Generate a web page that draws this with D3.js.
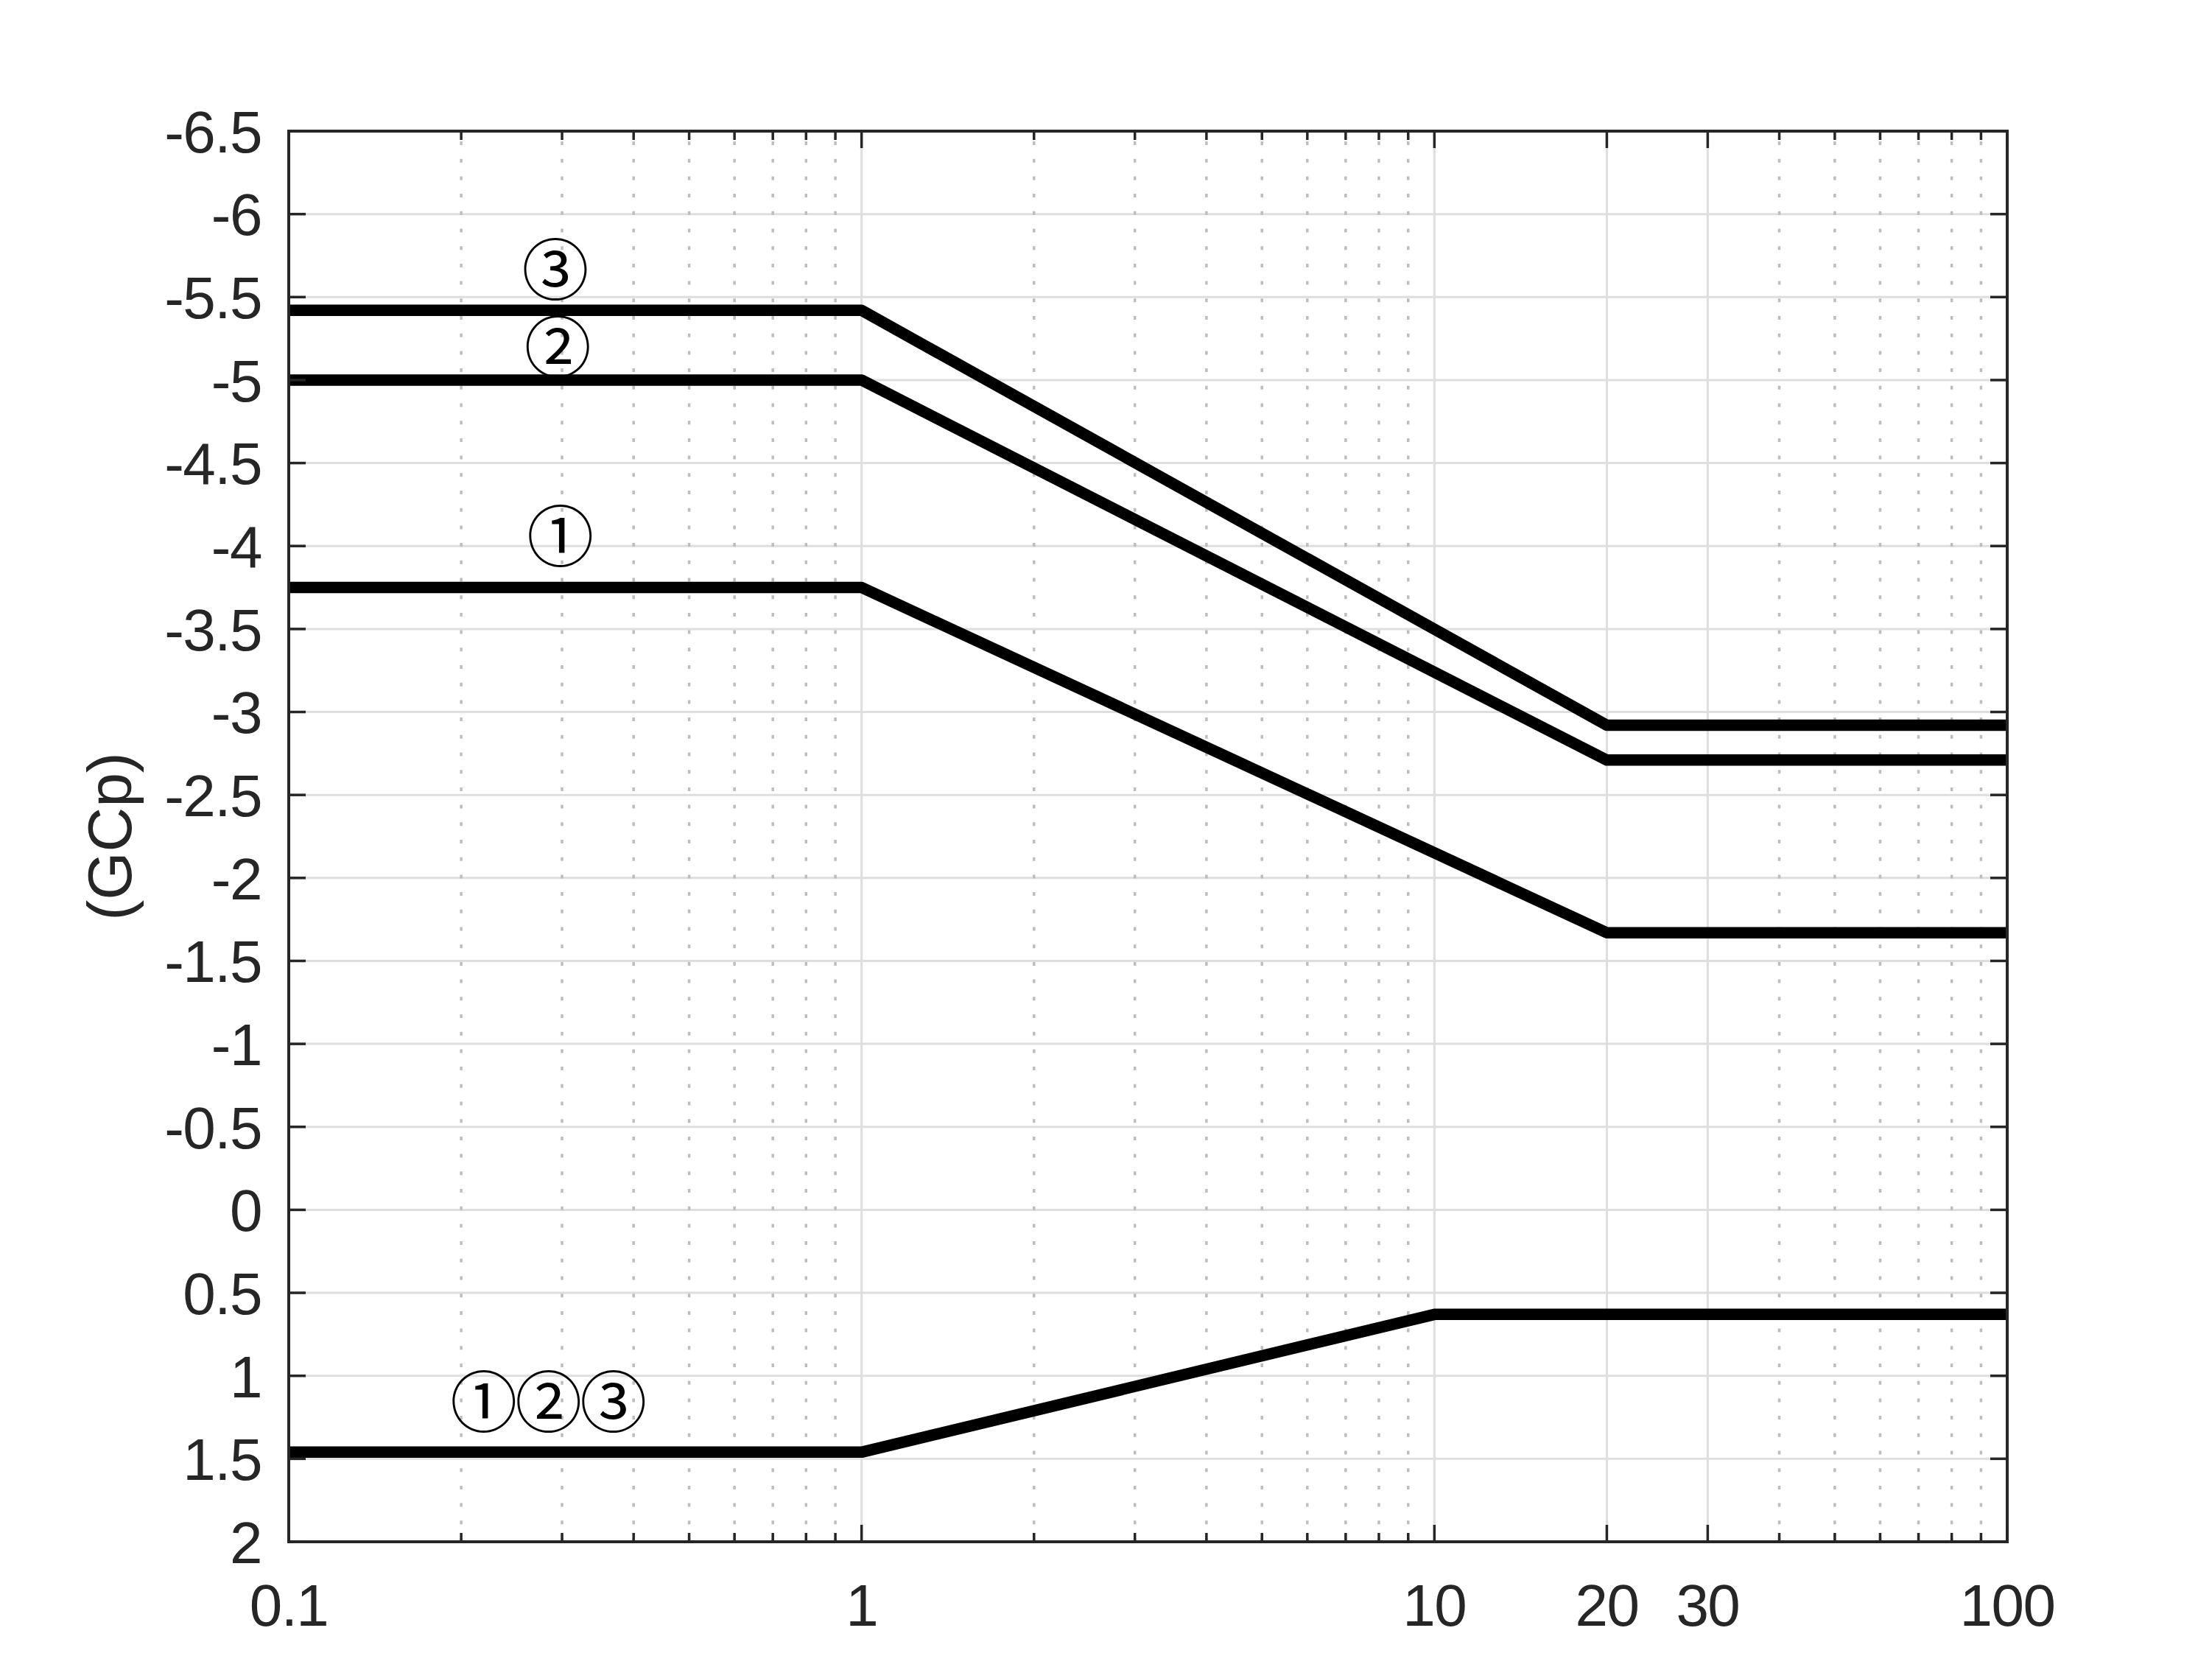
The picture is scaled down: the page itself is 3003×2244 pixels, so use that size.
<!DOCTYPE html>
<html>
<head>
<meta charset="utf-8">
<script src="https://cdn.jsdelivr.net/npm/d3@7"></script>
<style>
  html, body { margin: 0; padding: 0; background: #fff; }
  svg { display: block; }
</style>
</head>
<body>
<svg id="chart" width="3003" height="2244"></svg>
<script>
// ---- data ----
const negX = [0.1, 1, 20, 100];
const zone1Neg = [-3.75, -3.75, -1.67, -1.67];
const zone2Neg = [-5.0, -5.0, -2.71, -2.71];
const zone3Neg = [-5.42, -5.42, -2.92, -2.92];
const posX = [0.1, 1, 10, 100];
const zoneAllPos = [1.46, 1.46, 0.63, 0.63];

const xTickValues = [0.1, 1, 10, 20, 30, 100];
const xTickLabels = ["0.1", "1", "10", "20", "30", "100"];
const xMinorValues = [0.2, 0.3, 0.4, 0.5, 0.6, 0.7, 0.8, 0.9,
                      2, 3, 4, 5, 6, 7, 8, 9,
                      40, 50, 60, 70, 80, 90];
const yTickValues = [-6.5, -6, -5.5, -5, -4.5, -4, -3.5, -3, -2.5, -2, -1.5, -1, -0.5, 0, 0.5, 1, 1.5, 2];
const yTickLabels = ["-6.5", "-6", "-5.5", "-5", "-4.5", "-4", "-3.5", "-3", "-2.5", "-2", "-1.5", "-1", "-0.5", "0", "0.5", "1", "1.5", "2"];
const yAxisTitle = "(GCp)";

const labelTexts = ["③", "②", "①", "①②③"];
const labelX = [0.292, 0.295, 0.298, 0.283];
const labelY = [-5.655, -5.19, -4.05, 1.165];

// ---- layout ----
const L = 392, R = 2725, T = 178, B = 2093;
const ink = "#262626";
const svg = d3.select("#chart");

const x = d3.scaleLog().domain([0.1, 100]).range([L, R]);
const y = d3.scaleLinear().domain([-6.5, 2]).range([T, B]);

// grid
const grid = svg.append("g");
grid.selectAll("line.ymaj").data(yTickValues).join("line")
  .attr("x1", L).attr("x2", R)
  .attr("y1", d => y(d)).attr("y2", d => y(d))
  .attr("stroke", "#dedede").attr("stroke-width", 3);
grid.selectAll("line.xmaj").data(xTickValues).join("line")
  .attr("x1", d => x(d)).attr("x2", d => x(d))
  .attr("y1", T).attr("y2", B)
  .attr("stroke", "#dedede").attr("stroke-width", 3);
grid.selectAll("line.xmin").data(xMinorValues).join("line")
  .attr("x1", d => x(d)).attr("x2", d => x(d))
  .attr("y1", B).attr("y2", T)
  .attr("stroke", "#bdbdbd").attr("stroke-width", 3.5)
  .attr("stroke-dasharray", "5,18.7");

// data lines
const line = d3.line().x(d => x(d[0])).y(d => y(d[1]));
const series = [
  d3.zip(negX, zone1Neg),
  d3.zip(negX, zone2Neg),
  d3.zip(negX, zone3Neg),
  d3.zip(posX, zoneAllPos)
];
svg.append("g").selectAll("path").data(series).join("path")
  .attr("d", line)
  .attr("fill", "none")
  .attr("stroke", "#000")
  .attr("stroke-width", 15.5)
  .attr("stroke-linejoin", "round");

// axes box & ticks
const ax = svg.append("g").attr("stroke", ink);
ax.append("rect").attr("x", L).attr("y", T).attr("width", R - L).attr("height", B - T)
  .attr("fill", "none").attr("stroke-width", 4);
const majLen = 23, minLen = 12;
yTickValues.forEach(v => {
  ax.append("line").attr("x1", L).attr("x2", L + majLen).attr("y1", y(v)).attr("y2", y(v)).attr("stroke-width", 3.5);
  ax.append("line").attr("x1", R).attr("x2", R - majLen).attr("y1", y(v)).attr("y2", y(v)).attr("stroke-width", 3.5);
});
xTickValues.forEach(v => {
  ax.append("line").attr("x1", x(v)).attr("x2", x(v)).attr("y1", B).attr("y2", B - majLen).attr("stroke-width", 3.5);
  ax.append("line").attr("x1", x(v)).attr("x2", x(v)).attr("y1", T).attr("y2", T + majLen).attr("stroke-width", 3.5);
});
xMinorValues.forEach(v => {
  ax.append("line").attr("x1", x(v)).attr("x2", x(v)).attr("y1", B).attr("y2", B - minLen).attr("stroke-width", 3.5);
  ax.append("line").attr("x1", x(v)).attr("x2", x(v)).attr("y1", T).attr("y2", T + minLen).attr("stroke-width", 3.5);
});

// tick labels
const font = "'Liberation Sans', Arial, Helvetica, sans-serif";
svg.append("g").selectAll("text").data(yTickValues).join("text")
  .attr("x", L - 37).attr("y", d => y(d))
  .attr("dy", "0.36em")
  .attr("text-anchor", "end")
  .attr("font-family", font).attr("font-size", 80)
  .attr("letter-spacing", -1.5)
  .attr("fill", ink)
  .text((d, i) => yTickLabels[i]);
svg.append("g").selectAll("text").data(xTickValues).join("text")
  .attr("x", d => x(d)).attr("y", 2207)
  .attr("text-anchor", "middle")
  .attr("font-family", font).attr("font-size", 80)
  .attr("letter-spacing", -1.5)
  .attr("fill", ink)
  .text((d, i) => xTickLabels[i]);

// y-axis title
svg.append("text")
  .attr("transform", `translate(178, ${(T + B) / 2}) rotate(-90)`)
  .attr("text-anchor", "middle")
  .attr("font-family", font).attr("font-size", 84)
  .attr("fill", ink)
  .text(yAxisTitle);

// zone labels
svg.append("g").selectAll("text").data(labelTexts).join("text")
  .attr("x", (d, i) => x(labelX[i]))
  .attr("y", (d, i) => y(labelY[i]))
  .attr("dy", "0.35em")
  .attr("text-anchor", "middle")
  .attr("font-family", "'Liberation Sans', 'Noto Sans CJK JP', 'Noto Sans CJK SC', sans-serif")
  .attr("font-size", 91)
  .attr("letter-spacing", (d) => d.length > 1 ? -3 : 0)
  .attr("fill", "#000")
  .text(d => d);
</script>
</body>
</html>
